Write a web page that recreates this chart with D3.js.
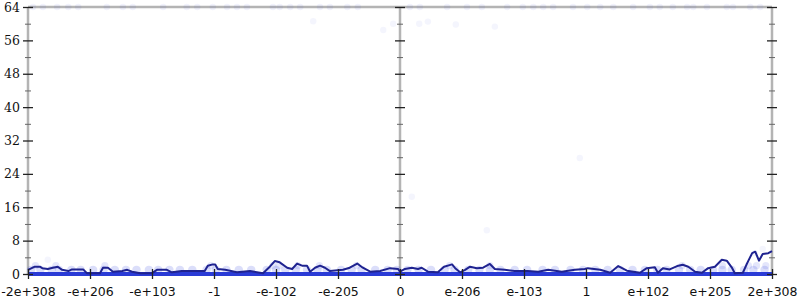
<!DOCTYPE html>
<html>
<head>
<meta charset="utf-8">
<script src="https://cdn.jsdelivr.net/npm/d3@7"></script>
<style>
    body { margin: 0; background: #fff; }
    svg { display: block; }
    .ylab text { font-family: "DejaVu Serif", serif; font-size: 12.5px; fill: #111; }
    .xlab text { font-family: "DejaVu Sans", sans-serif; font-size: 12.5px; fill: #111; }
</style>
</head>
<body>
<svg id="chart"></svg>
<script>
// x positions are in tick steps: -6 .. 6, one step per label
const xTickLabels = ['-2e+308', '-e+206', '-e+103', '-1', '-e-102', '-e-205', '0',
    'e-206', 'e-103', '1', 'e+102', 'e+205', '2e+308'];
const yMajorTicks = [0, 8, 16, 24, 32, 40, 48, 56, 64];
const yMinorTicks = [4, 12, 20, 28, 36, 44, 52, 60];

// running mean
const trendPos = [-6.00, -5.89, -5.81, -5.77, -5.68, -5.60, -5.52, -5.45, -5.35, -5.29,
    -5.11, -5.05, -4.84, -4.79, -4.71, -4.63, -4.48, -4.40, -4.32, -4.19,
    -4.00, -3.92, -3.76, -3.68, -3.52, -3.15, -3.10, -3.02, -2.98, -2.94,
    -2.82, -2.63, -2.42, -2.21, -2.10, -2.02, -1.94, -1.82, -1.74, -1.66,
    -1.58, -1.50, -1.45, -1.37, -1.29, -1.21, -1.13, -0.92, -0.81, -0.69,
    -0.60, -0.48, -0.32, -0.16, -0.03, 0.00, 0.08, 0.19, 0.29, 0.35,
    0.45, 0.61, 0.71, 0.84, 0.89, 0.97, 1.05, 1.13, 1.24, 1.34,
    1.45, 1.53, 1.69, 1.85, 2.06, 2.23, 2.39, 2.61, 2.82, 2.98,
    3.03, 3.23, 3.39, 3.52, 3.66, 3.87, 3.98, 4.11, 4.16, 4.24,
    4.35, 4.47, 4.56, 4.65, 4.76, 4.87, 4.97, 5.08, 5.19, 5.27,
    5.35, 5.40, 5.53, 5.60, 5.68, 5.73, 5.79, 5.85, 5.94, 6.00];
const trendVal = [1.0, 1.75, 1.75, 1.4, 1.2, 1.5, 1.75, 1.0, 0.7, 1.1,
    1.1, 0.2, 0.2, 1.5, 1.5, 0.55, 0.7, 1.0, 0.55, 0.2,
    0.2, 1.0, 1.0, 0.4, 0.7, 0.7, 2.0, 2.3, 2.3, 1.2,
    1.0, 0.4, 0.7, 0.2, 1.75, 3.1, 2.8, 1.5, 1.2, 2.5,
    2.0, 2.0, 0.55, 1.5, 2.0, 1.5, 0.7, 1.0, 1.5, 2.5,
    1.5, 0.55, 0.7, 1.4, 1.2, 0.55, 1.2, 1.5, 1.2, 1.5,
    0.55, 0.4, 1.75, 2.3, 1.4, 0.4, 1.0, 1.75, 1.4, 1.5,
    2.4, 1.2, 1.0, 0.7, 0.7, 0.55, 1.0, 0.55, 1.0, 1.2,
    1.4, 1.0, 0.3, 1.9, 0.8, 0.3, 1.4, 1.6, 0.3, 1.4,
    1.1, 1.9, 2.2, 1.75, 0.55, 0.3, 1.4, 1.75, 3.4, 3.2,
    1.6, 0.2, 0.3, 2.6, 5.0, 5.35, 3.2, 4.8, 5.0, 5.5];

// raw samples: the zero run is so dense it reads as one solid band
const zeroRun = [-6, 6];
const hitsAt1 = [-5.95, -5.8, -5.62, -5.5, -5.3, -5.15, -4.95, -4.78, -4.6, -4.42,
    -4.25, -4.05, -3.9, -3.72, -3.55, -3.35, -3.12, -2.97, -2.8, -2.6,
    -2.4, -2.15, -2.0, -1.85, -1.68, -1.5, -1.33, -1.18, -0.95, -0.78,
    -0.62, -0.4, -0.2, -0.05, 0.12, 0.3, 0.5, 0.72, 0.88, 1.1,
    1.28, 1.45, 1.62, 1.85, 2.05, 2.3, 2.5, 2.75, 2.95, 3.15,
    3.35, 3.55, 3.75, 3.95, 4.15, 4.3, 4.5, 4.68, 4.85, 5.05,
    5.2, 5.35, 5.55, 5.7, 5.88];
const hitsAt2 = [-5.88, -5.55, -4.76, -3.05, -2.05, -1.95, -1.65, -1.3, -0.7, 0.8,
    1.45, 4.55, 5.2, 5.62, 5.75, 5.9];
const topHits = [-5.92, -5.76, -5.53, -5.35, -5.19, -4.73, -4.47, -4.31, -3.82, -3.44,
    -3.27, -3.02, -2.79, -2.63, -2.47, -2.05, -1.94, -1.77, -1.61, -1.29,
    -1.13, -0.85, -0.68, 0.16, 0.32, 0.76, 1.08, 1.32, 1.73, 1.98,
    2.15, 2.31, 2.47, 2.79, 3.02, 3.23, 3.44, 3.76, 4.03, 4.19,
    4.40, 4.63, 4.73, 4.95, 5.27, 5.37, 5.65, 5.81];
const strayPos = [-1.40, -0.11, -0.27, 0.31, 0.45, 0.90, 1.53, 0.19, -5.68, 2.90, 1.40, 5.72, 5.85];
const strayVal = [60.6, 60.0, 58.5, 60.0, 60.5, 59.8, 59.3, 18.5, 3.4, 27.8, 10.5, 5.0, 6.0];

const width = 800;
const height = 300;
const margin = { left: 28, right: 772, top: 7, bottom: 274 };

const x = d3.scaleLinear().domain([-6, 6]).range([margin.left, margin.right]);
const y = d3.scaleLinear().domain([0, 64]).range([margin.bottom, margin.top]);

const svg = d3.select('#chart')
    .attr('width', width)
    .attr('height', height);

// frame: gray axis lines
const frame = svg.append('g').attr('stroke', '#b4b4b4').attr('stroke-width', 2.5);
frame.append('line').attr('x1', x(-6)).attr('x2', x(6)).attr('y1', y(64)).attr('y2', y(64));
frame.append('line').attr('x1', x(-6)).attr('x2', x(6)).attr('y1', y(0)).attr('y2', y(0));
[-6, 0, 6].forEach(p => {
    frame.append('line').attr('x1', x(p)).attr('x2', x(p)).attr('y1', y(0)).attr('y2', y(64));
});

// samples
const points = [];
hitsAt1.forEach(p => points.push({ p, v: 1, o: 0.16, r: 4.2 }));
hitsAt2.forEach(p => points.push({ p, v: 2, o: 0.12, r: 3.6 }));
topHits.forEach(p => points.push({ p, v: 64, o: 0.06, r: 3.2 }));
strayPos.forEach((p, i) => points.push({ p, v: strayVal[i], o: 0.05, r: 3.2 }));

svg.append('g')
    .selectAll('circle')
    .data(points)
    .join('circle')
        .attr('cx', d => x(d.p))
        .attr('cy', d => y(d.v))
        .attr('r', d => d.r)
        .attr('fill', '#2233dd')
        .attr('fill-opacity', d => d.o);

svg.append('line')
    .attr('x1', x(zeroRun[0]))
    .attr('x2', x(zeroRun[1]))
    .attr('y1', y(0))
    .attr('y2', y(0))
    .attr('stroke', '#2a3bd6')
    .attr('stroke-width', 4);

// trend line
const trend = trendPos.map((p, i) => [p, trendVal[i]]);
svg.append('path')
    .datum(trend)
    .attr('fill', 'none')
    .attr('stroke', '#1f2390')
    .attr('stroke-width', 2)
    .attr('stroke-linejoin', 'round')
    .attr('d', d3.line().x(d => x(d[0])).y(d => y(d[1])));

// ticks crossing the axes
const tickStyle = sel => {
    sel.select('.domain').remove();
    sel.selectAll('.tick line').attr('stroke', '#222').attr('stroke-width', 1.3);
};

const addYTicks = (pos, labels) => {
    const major = svg.append('g')
        .attr('class', 'ylab')
        .attr('transform', `translate(${x(pos)},0)`)
        .call(d3.axisLeft(y).tickValues(yMajorTicks).tickSize(5).tickPadding(3)
            .tickFormat(labels ? d3.format('d') : () => ''))
        .call(tickStyle);
    major.selectAll('.tick line').attr('x1', -5).attr('x2', 5);
    major.selectAll('.tick text').attr('x', -8).attr('fill', '#111');

    const minor = svg.append('g')
        .attr('transform', `translate(${x(pos)},0)`)
        .call(d3.axisLeft(y).tickValues(yMinorTicks).tickSize(3).tickFormat(() => ''))
        .call(tickStyle);
    minor.selectAll('.tick line').attr('x1', -3).attr('x2', 3).attr('stroke', '#666').attr('stroke-width', 1);
};
addYTicks(-6, true);
addYTicks(0, false);
addYTicks(6, false);

const xAxis = svg.append('g')
    .attr('class', 'xlab')
    .attr('transform', `translate(0,${y(0)})`)
    .call(d3.axisBottom(x).tickValues(d3.range(-6, 7)).tickSize(5).tickPadding(8)
        .tickFormat((d, i) => xTickLabels[i]))
    .call(tickStyle);
xAxis.selectAll('.tick line').attr('y1', -5).attr('y2', 5);
xAxis.selectAll('.tick text').attr('fill', '#111');
</script>
</body>
</html>
